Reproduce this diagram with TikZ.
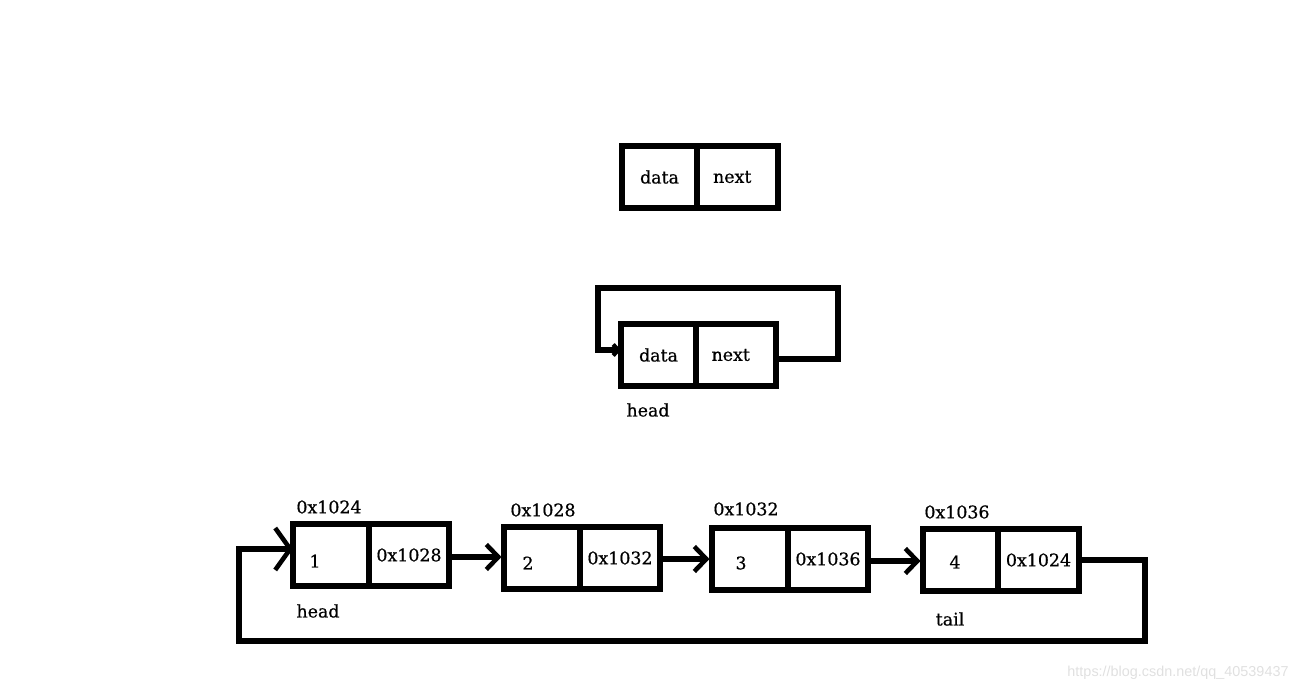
\documentclass[tikz,border=0pt]{standalone}
\usepackage{fontspec}
\setmainfont{DejaVu Serif}[UprightFeatures={FakeBold=0.6}]
\newfontfamily\wmfont{Liberation Sans}
\usetikzlibrary{arrows.meta}
\begin{document}
\begin{tikzpicture}[x=0.02cm,y=-0.02cm,
  cell/.style={draw,line width=2.9pt,minimum height=1.24cm,inner sep=0pt,font=\fontsize{9.9}{12}\selectfont},
  txt/.style={inner sep=0pt,font=\fontsize{9.9}{12}\selectfont},
  wire/.style={line width=2.9pt,line join=miter},
  link/.style={wire,-{Straight Barb[length=0.24cm,width=0.5cm,line width=2.6pt]}},
  biglink/.style={wire,-{Straight Barb[length=0.3cm,width=0.84cm,line width=2.6pt]}},
  smalllink/.style={wire,-{Straight Barb[length=0.1cm,width=0.22cm,line width=2.4pt]}}]
\useasboundingbox (0,0) rectangle (1308,692);

% top node
\node[cell,minimum width=1.5cm] (ta) at (659.5,177) {\raisebox{-2.5pt}{data}};
\node[cell,minimum width=1.62cm] (tb) at (737.5,177) {\hspace*{-6pt}\raisebox{-2.5pt}{next}};

% self loop node
\node[cell,minimum width=1.5cm] (ha) at (658.5,355) {\raisebox{-2.5pt}{data}};
\node[cell,minimum width=1.6cm] (hb) at (736,355) {\hspace*{-6pt}\raisebox{-2.5pt}{next}};
\node[txt] (hlabel) at (648,410) {head};
\coordinate (hout) at (776,359);
\coordinate (hr) at (838,359);
\coordinate (htr) at (838,288);
\coordinate (htl) at (598,288);
\coordinate (hbl) at (598,350);
\coordinate (hin) at (621,350);
\draw[wire] (hout) -- (hr) -- (htr) -- (htl) -- (hbl) -- (hin);
\draw[smalllink] (hbl) -- (hin);

% circular list
\node[cell,minimum width=1.52cm] (n1a) at (331,555) {};
\node[cell,minimum width=1.6cm] (n1b) at (409,555) {0x1028};
\node[txt] (v1) at (315,561) {1};
\node[txt] (a1) at (329,507) {0x1024};
\node[txt] (head) at (318,611) {head};

\node[cell,minimum width=1.52cm] (n2a) at (542,558) {};
\node[cell,minimum width=1.6cm] (n2b) at (620,558) {\raisebox{-1.5pt}{0x1032}};
\node[txt] (v2) at (528,563) {2};
\node[txt] (a2) at (543,510) {0x1028};

\node[cell,minimum width=1.52cm] (n3a) at (750,559) {};
\node[cell,minimum width=1.6cm] (n3b) at (828,559) {\raisebox{-1.5pt}{0x1036}};
\node[txt] (v3) at (741,563) {3};
\node[txt] (a3) at (746,509) {0x1032};

\node[cell,minimum width=1.5cm] (n4a) at (960.5,560) {};
\node[cell,minimum width=1.62cm] (n4b) at (1038.5,560) {0x1024};
\node[txt] (v4) at (955,562) {4};
\node[txt] (a4) at (957,512) {0x1036};
\node[txt] (tail) at (950,619) {tail};

\draw[link] ([yshift=-0.04cm]n1b.east) -- ([yshift=-0.04cm]n1b.east -| n2a.west);
\draw[link] ([yshift=-0.02cm]n2b.east) -- ([yshift=-0.02cm]n2b.east -| n3a.west);
\draw[link] ([yshift=-0.04cm]n3b.east) -- ([yshift=-0.04cm]n3b.east -| n4a.west);

\coordinate (l1) at (1145,560);
\coordinate (l2) at (1145,641);
\coordinate (l3) at (239,641);
\coordinate (l4) at (239,549);
\coordinate (l5) at (293,549);
\draw[wire] (n4b.east) -- (l1) -- (l2) -- (l3) -- (l4) -- (l5);
\draw[biglink] (l4) -- (l5);

\node[inner sep=0pt,text=black!12,font=\wmfont\fontsize{8.2}{10}\selectfont] (wm) at (1178,673) {https://blog.csdn.net/qq\_40539437};
\end{tikzpicture}
\end{document}
